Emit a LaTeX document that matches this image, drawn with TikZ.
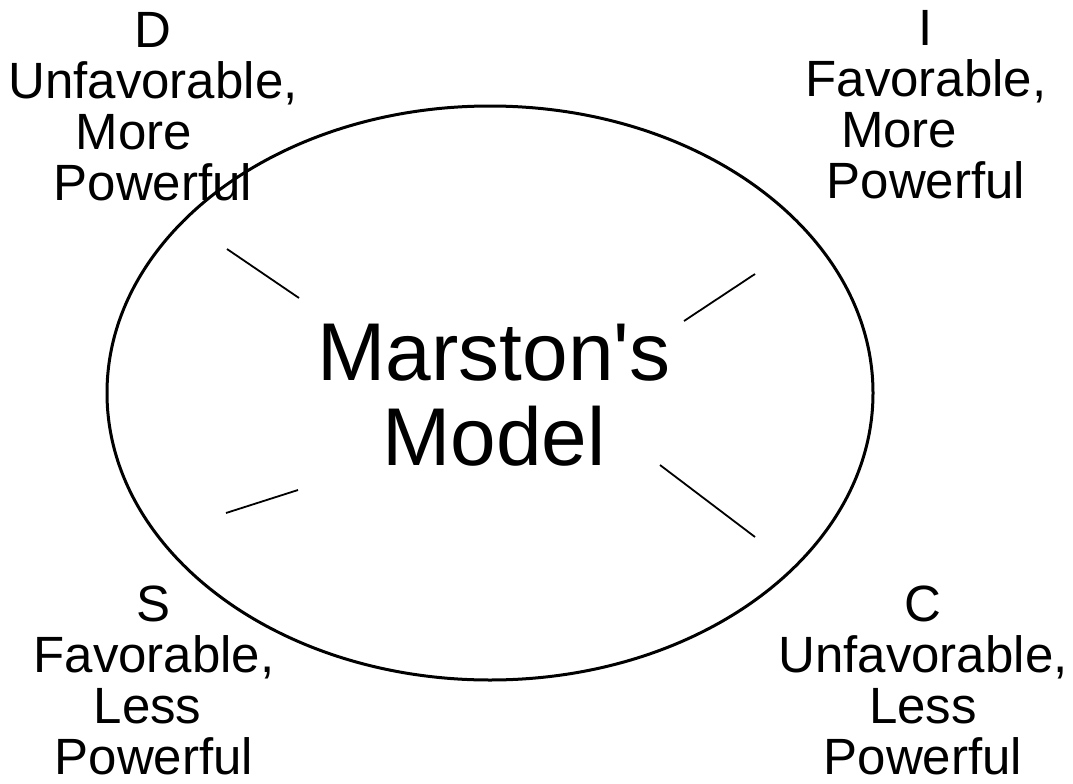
\documentclass[tikz,border=0pt]{standalone}
\usepackage{fontspec}
\setmainfont{Liberation Sans}[Ligatures=TeXOff]
\usetikzlibrary{shapes.geometric}
\begin{document}
\begin{tikzpicture}[x=1pt,y=-1pt,
  corner/.style={align=center,inner sep=0pt,anchor=base,
    font=\fontsize{51}{51}\selectfont},
  tick/.style={line width=1.8pt}]
\useasboundingbox (0,0) rectangle (1073,784);
\node[draw,ellipse,line width=3pt,minimum width=766pt,minimum height=574pt,inner sep=0pt] (ell) at (490,393) {};
\node[align=center,inner sep=0pt,anchor=base,font=\fontsize{82}{85}\selectfont] (title) at (494,465) {Marston's\\Model};
\node[corner] (D) at (153,200) {D\\Unfavorable,\\More\rule{0.75em}{0pt}\\Powerful};
\node[corner] (I) at (926,198) {I\\Favorable,\\More\rule{1.05em}{0pt}\\Powerful};
\node[corner] (S) at (154,774) {S\\Favorable,\\Less\rule{0.25em}{0pt}\\Powerful};
\node[corner] (C) at (923,774) {C\\Unfavorable,\\Less\\Powerful};
\coordinate (d1) at (227,249); \coordinate (d2) at (299,298);
\coordinate (i1) at (755,274); \coordinate (i2) at (684,321);
\coordinate (s1) at (226,513); \coordinate (s2) at (298,490);
\coordinate (c1) at (660,465); \coordinate (c2) at (755,537);
\draw[tick] (d1) -- (d2);
\draw[tick] (i1) -- (i2);
\draw[tick] (s1) -- (s2);
\draw[tick] (c1) -- (c2);
\end{tikzpicture}
\end{document}
